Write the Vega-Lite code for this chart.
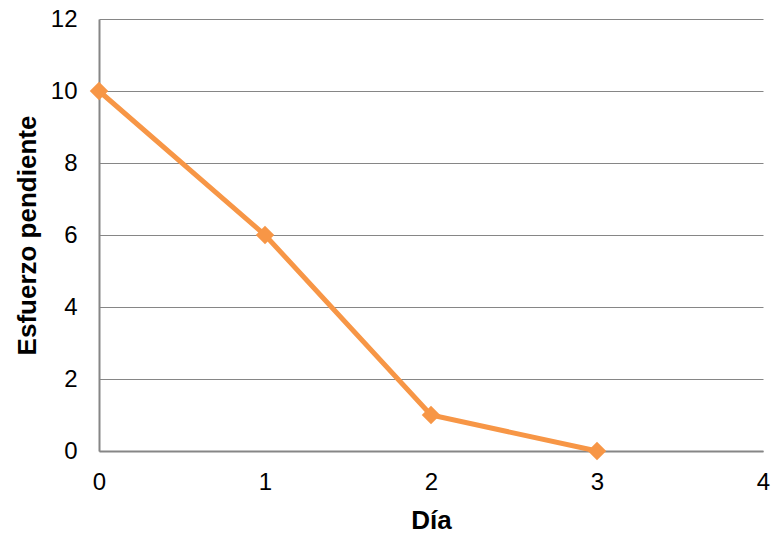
{
  "$schema": "https://vega.github.io/schema/vega-lite/v6.json",
  "width": 664,
  "height": 432,
  "autosize": {"type": "none"},
  "padding": {"left": 99, "top": 19, "right": 10, "bottom": 85},
  "background": "white",
  "config": {
    "view": {"stroke": null},
    "font": "Liberation Sans",
    "axis": {
      "labelFont": "Liberation Sans",
      "titleFont": "Liberation Sans",
      "labelColor": "#000000",
      "titleColor": "#000000",
      "labelFontSize": 24,
      "titleFontSize": 26,
      "titleFontWeight": "bold",
      "labelFlush": false,
      "labelOverlap": false,
      "ticks": false,
      "domainColor": "#868686",
      "domainWidth": 2,
      "gridColor": "#868686",
      "gridWidth": 1
    }
  },
  "data": {
    "values": [
      {"dia": 0, "esfuerzo": 10},
      {"dia": 1, "esfuerzo": 6},
      {"dia": 2, "esfuerzo": 1},
      {"dia": 3, "esfuerzo": 0}
    ]
  },
  "encoding": {
    "x": {
      "field": "dia",
      "type": "quantitative",
      "title": "Día",
      "scale": {"domain": [0, 4], "nice": false},
      "axis": {
        "values": [0, 1, 2, 3, 4],
        "grid": false,
        "labelPadding": 19,
        "titlePadding": 13
      }
    },
    "y": {
      "field": "esfuerzo",
      "type": "quantitative",
      "title": "Esfuerzo pendiente",
      "scale": {"domain": [0, 12], "nice": false},
      "axis": {
        "values": [0, 2, 4, 6, 8, 10, 12],
        "labelPadding": 22,
        "titlePadding": 10
      }
    }
  },
  "layer": [
    {
      "mark": {"type": "line", "color": "#F79646", "strokeWidth": 5}
    },
    {
      "mark": {"type": "point", "shape": "diamond", "filled": true, "color": "#F79646", "opacity": 1, "size": 340}
    }
  ]
}
